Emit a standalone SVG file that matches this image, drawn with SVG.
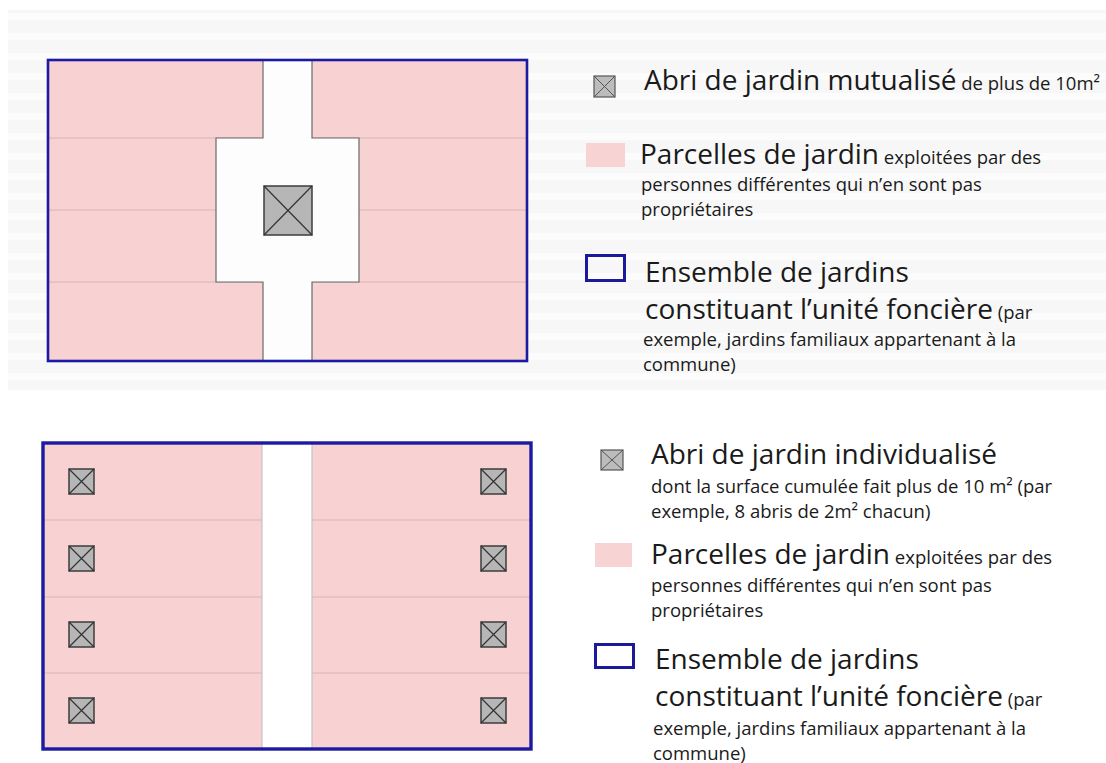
<svg xmlns="http://www.w3.org/2000/svg" width="1106" height="763" viewBox="0 0 1106 763">
<defs>
<style>
.big{font-family:"Open Sans","Noto Sans",sans-serif;font-size:28px;fill:#1a1a1a}
.sm{font-family:"Open Sans","Noto Sans",sans-serif;font-size:18.5px;fill:#1a1a1a}
.pink{fill:#f8d2d3}
.row{stroke:#d6b3b5;stroke-width:1.2}
.shed{fill:#b6b6b6;stroke:#3c3c3c;stroke-width:1.5}
.diag{stroke:#333;stroke-width:1.2}
.border{fill:none;stroke:#1c1aa2}
</style>
<pattern id="stripes" width="20" height="20" patternUnits="userSpaceOnUse">
<rect width="20" height="20" fill="#f7f7f7"/>
<rect y="13" width="20" height="7" fill="#fcfcfc"/>
</pattern>
</defs>
<rect width="1106" height="763" fill="#ffffff"/>
<rect x="8" y="10" width="1098" height="380" fill="url(#stripes)"/>

<g id="diagram-top">
<rect class="pink" x="48" y="60" width="479" height="301"/>
<line class="row" x1="48" y1="138" x2="527" y2="138"/>
<line class="row" x1="48" y1="210" x2="527" y2="210"/>
<line class="row" x1="48" y1="282" x2="527" y2="282"/>
<path d="M263,60 H312 V138 H359 V282 H312 V361 H263 V282 H216 V138 H263 Z" fill="#fdfdfd" stroke="#6a6a6a" stroke-width="1.2"/>
<rect class="border" x="48" y="60" width="479" height="301" stroke-width="2.6"/>
</g>
<g id="shed-shared">
<rect class="shed" x="264" y="186" width="48" height="49"/>
<line class="diag" x1="264" y1="186" x2="312" y2="235"/>
<line class="diag" x1="312" y1="186" x2="264" y2="235"/>
</g>

<g id="diagram-bottom">
<rect class="pink" x="43" y="443" width="488" height="306"/>
<line class="row" x1="43" y1="520" x2="531" y2="520"/>
<line class="row" x1="43" y1="597" x2="531" y2="597"/>
<line class="row" x1="43" y1="673" x2="531" y2="673"/>
<rect x="262" y="443" width="50" height="306" fill="#ffffff" stroke="#c9c2c4" stroke-width="1.2"/>
<rect class="border" x="43" y="443" width="488" height="306" stroke-width="3.4"/>
</g>
<g id="sheds-individual">
<g id="shed-l1"><rect class="shed" x="69" y="469" width="25" height="25"/><path class="diag" d="M69,469 L94,494 M94,469 L69,494"/></g>
<g id="shed-l2"><rect class="shed" x="69" y="546" width="25" height="25"/><path class="diag" d="M69,546 L94,571 M94,546 L69,571"/></g>
<g id="shed-l3"><rect class="shed" x="69" y="622" width="25" height="25"/><path class="diag" d="M69,622 L94,647 M94,622 L69,647"/></g>
<g id="shed-l4"><rect class="shed" x="69" y="698" width="25" height="25"/><path class="diag" d="M69,698 L94,723 M94,698 L69,723"/></g>
<g id="shed-r1"><rect class="shed" x="481" y="469" width="25" height="25"/><path class="diag" d="M481,469 L506,494 M506,469 L481,494"/></g>
<g id="shed-r2"><rect class="shed" x="481" y="546" width="25" height="25"/><path class="diag" d="M481,546 L506,571 M506,546 L481,571"/></g>
<g id="shed-r3"><rect class="shed" x="481" y="622" width="25" height="25"/><path class="diag" d="M481,622 L506,647 M506,622 L481,647"/></g>
<g id="shed-r4"><rect class="shed" x="481" y="698" width="25" height="25"/><path class="diag" d="M481,698 L506,723 M506,698 L481,723"/></g>
</g>

<g id="connectors"></g>

<g id="legend-top-shed">
<rect x="594" y="76" width="21" height="21" fill="#bcbcbc" stroke="#555" stroke-width="1.2"/>
<path d="M594,76 L615,97 M615,76 L594,97" stroke="#555" stroke-width="1"/>
<text class="big" x="644" y="90" font-size="27">Abri de jardin mutualisé<tspan class="sm" font-size="18"> de plus de 10m²</tspan></text>
</g>
<g id="legend-top-parcel">
<rect x="586" y="143" width="39" height="24" fill="#f7d3d4"/>
<text class="big" x="640" y="164">Parcelles de jardin<tspan class="sm"> exploitées par des</tspan></text>
<text class="sm" x="641" y="191">personnes différentes qui n’en sont pas</text>
<text class="sm" x="641" y="216">propriétaires</text>
</g>
<g id="legend-top-unit">
<rect x="586.5" y="255.5" width="38" height="25" fill="none" stroke="#1a1a9a" stroke-width="3"/>
<text class="big" x="645" y="282">Ensemble de jardins</text>
<text class="big" x="645" y="319">constituant l’unité foncière<tspan class="sm"> (par</tspan></text>
<text class="sm" x="643" y="346">exemple, jardins familiaux appartenant à la</text>
<text class="sm" x="643" y="371">commune)</text>
</g>

<g id="legend-bottom-shed">
<rect x="601" y="450" width="22" height="20" fill="#bcbcbc" stroke="#555" stroke-width="1.2"/>
<path d="M601,450 L623,470 M623,450 L601,470" stroke="#555" stroke-width="1"/>
<text class="big" x="651" y="464">Abri de jardin individualisé</text>
<text class="sm" x="651" y="493">dont la surface cumulée fait plus de 10 m² (par</text>
<text class="sm" x="651" y="518">exemple, 8 abris de 2m² chacun)</text>
</g>
<g id="legend-bottom-parcel">
<rect x="595" y="543" width="37" height="24" fill="#f7d3d4"/>
<text class="big" x="651" y="564">Parcelles de jardin<tspan class="sm"> exploitées par des</tspan></text>
<text class="sm" x="651" y="592">personnes différentes qui n’en sont pas</text>
<text class="sm" x="651" y="617">propriétaires</text>
</g>
<g id="legend-bottom-unit">
<rect x="595.5" y="644.5" width="38" height="23" fill="none" stroke="#1a1a9a" stroke-width="3"/>
<text class="big" x="655" y="669">Ensemble de jardins</text>
<text class="big" x="655" y="706">constituant l’unité foncière<tspan class="sm"> (par</tspan></text>
<text class="sm" x="653" y="735">exemple, jardins familiaux appartenant à la</text>
<text class="sm" x="653" y="760">commune)</text>
</g>
</svg>
